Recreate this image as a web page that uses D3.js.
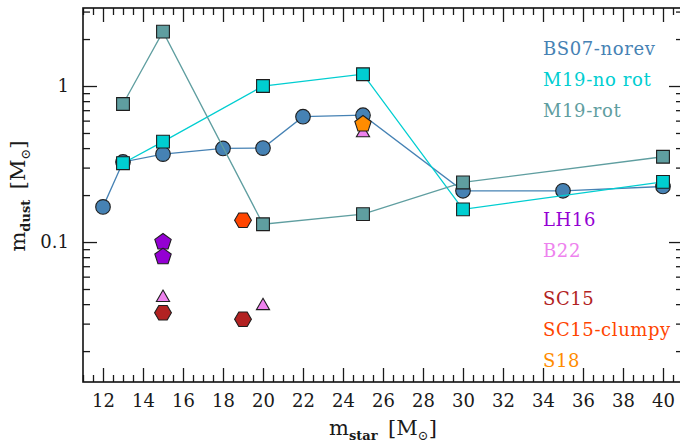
<!DOCTYPE html>
<html>
<head>
<meta charset="utf-8">
<script src="https://cdn.jsdelivr.net/npm/d3@7"></script>
<style>
  html, body { margin: 0; padding: 0; background: #fff; }
  svg { display: block; }
  text { font-family: "DejaVu Serif", serif; }
</style>
</head>
<body>
<svg id="chart" width="680" height="445"></svg>
<script>
// Dust mass vs progenitor stellar mass, several model sets
const bs07Mass = [12, 13, 15, 18, 20, 22, 25, 30, 35, 40];
const bs07Dust = [0.168, 0.326, 0.366, 0.398, 0.40, 0.636, 0.65, 0.213, 0.213, 0.227];

const m19NoRotMass = [13, 15, 20, 25, 30, 40];
const m19NoRotDust = [0.32, 0.44, 1.0, 1.19, 0.162, 0.243];

const m19RotMass = [13, 15, 20, 25, 30, 40];
const m19RotDust = [0.767, 2.23, 0.13, 0.151, 0.241, 0.352];

const lh16Mass = [15, 15];
const lh16Dust = [0.1, 0.0805];

const b22Mass = [15, 20, 25];
const b22Dust = [0.044, 0.039, 0.50];

const sc15Mass = [15, 19];
const sc15Dust = [0.0352, 0.032];

const sc15ClumpyMass = [19];
const sc15ClumpyDust = [0.138];

const s18Mass = [25];
const s18Dust = [0.57];

const legendLabels = ["BS07-norev", "M19-no rot", "M19-rot", "LH16", "B22", "SC15", "SC15-clumpy", "S18"];

const xMajorTicks = [12, 14, 16, 18, 20, 22, 24, 26, 28, 30, 32, 34, 36, 38, 40];
const yMajorTicks = [0.1, 1];
const yTickLabels = ["0.1", "1"];

// ---------------------------------------------------------------
const svg = d3.select("#chart");
const plotLeft = 83, plotRight = 683, plotTop = 8, plotBottom = 382;

const x = d3.scaleLinear().domain([11, 41]).range([plotLeft, plotRight]);
const y = d3.scaleLog().domain([Math.pow(10, -1.897), Math.pow(10, 0.5)]).range([plotBottom, plotTop]);

// minor tick positions
const xMinorTicks = d3.range(11, 41.01, 0.5).filter(v => !xMajorTicks.includes(v));
const yMinorTicks = [];
[0.01, 0.1, 1].forEach(dec => {
  for (let k = 2; k <= 9; k++) {
    const v = +(k * dec).toPrecision(3);
    if (v >= y.domain()[0] && v <= y.domain()[1]) yMinorTicks.push(v);
  }
});

const tickColor = "#1a1a1a";

function styleAxis(g) {
  g.select(".domain").remove();
  g.selectAll(".tick line").attr("stroke", tickColor).attr("stroke-width", 1.3);
  g.selectAll(".tick text").attr("fill", "#1a1a1a").style("font-size", "18px")
    .style("font-family", "'DejaVu Serif', serif");
}

// bottom axis
svg.append("g").attr("transform", `translate(0,${plotBottom})`)
  .call(d3.axisBottom(x).tickValues(xMajorTicks).tickSize(-14).tickPadding(12).tickFormat(d3.format("d")))
  .call(styleAxis);
svg.append("g").attr("transform", `translate(0,${plotBottom})`)
  .call(d3.axisBottom(x).tickValues(xMinorTicks).tickSize(-7).tickFormat(""))
  .call(styleAxis);
// top axis (mirror)
svg.append("g").attr("transform", `translate(0,${plotTop})`)
  .call(d3.axisTop(x).tickValues(xMajorTicks).tickSize(-14).tickFormat(""))
  .call(styleAxis);
svg.append("g").attr("transform", `translate(0,${plotTop})`)
  .call(d3.axisTop(x).tickValues(xMinorTicks).tickSize(-7).tickFormat(""))
  .call(styleAxis);
// left axis
svg.append("g").attr("transform", `translate(${plotLeft},0)`)
  .call(d3.axisLeft(y).tickValues(yMajorTicks).tickSize(-14).tickPadding(14)
        .tickFormat((d, i) => yTickLabels[i]))
  .call(styleAxis);
svg.append("g").attr("transform", `translate(${plotLeft},0)`)
  .call(d3.axisLeft(y).tickValues(yMinorTicks).tickSize(-7).tickFormat(""))
  .call(styleAxis);
// right axis (mirror)
svg.append("g").attr("transform", `translate(${plotRight},0)`)
  .call(d3.axisRight(y).tickValues(yMajorTicks).tickSize(-14).tickFormat(""))
  .call(styleAxis);
svg.append("g").attr("transform", `translate(${plotRight},0)`)
  .call(d3.axisRight(y).tickValues(yMinorTicks).tickSize(-7).tickFormat(""))
  .call(styleAxis);

// frame
svg.append("rect")
  .attr("x", plotLeft).attr("y", plotTop)
  .attr("width", plotRight - plotLeft).attr("height", plotBottom - plotTop)
  .attr("fill", "none").attr("stroke", "#111").attr("stroke-width", 1.6);

// ---------------------------------------------------------------
// marker shapes
function polygonType(n, rot) {
  return {
    draw(context, size) {
      const r = Math.sqrt(size);
      for (let i = 0; i < n; i++) {
        const a = rot + i * 2 * Math.PI / n;
        const px = r * Math.cos(a), py = r * Math.sin(a);
        if (i === 0) context.moveTo(px, py); else context.lineTo(px, py);
      }
      context.closePath();
    }
  };
}
const circleType = {
  draw(context, size) {
    const r = Math.sqrt(size);
    context.moveTo(r, 0);
    context.arc(0, 0, r, 0, 2 * Math.PI);
  }
};
const squareType = {
  draw(context, size) {
    const h = Math.sqrt(size);
    context.rect(-h, -h, 2 * h, 2 * h);
  }
};
const shapes = {
  circle: { type: circleType, r: 7.3 },
  square: { type: squareType, r: 6.4 },
  triangle: { type: polygonType(3, -Math.PI / 2), r: 7.6 },
  pentagon: { type: polygonType(5, -Math.PI / 2), r: 8.6 },
  hexagon: { type: polygonType(6, 0), r: 8.4 }
};

function drawLine(mass, dust, color) {
  const line = d3.line().x(d => x(d[0])).y(d => y(d[1]));
  svg.append("path")
    .datum(d3.zip(mass, dust))
    .attr("d", line)
    .attr("fill", "none")
    .attr("stroke", color)
    .attr("stroke-width", 1.3);
}

function drawMarkers(mass, dust, shape, color) {
  const s = shapes[shape];
  const gen = d3.symbol().type(s.type).size(s.r * s.r);
  svg.append("g").selectAll("path")
    .data(d3.zip(mass, dust))
    .join("path")
    .attr("transform", d => `translate(${x(d[0])},${y(d[1])})`)
    .attr("d", gen)
    .attr("fill", color)
    .attr("stroke", "#1e1e1e")
    .attr("stroke-width", 1.1);
}

const colBS07 = "#4682b4";
const colM19NoRot = "#00ced1";
const colM19Rot = "#5f9ea0";
const colLH16 = "#9400d3";
const colB22 = "#ee82ee";
const colSC15 = "#b22222";
const colSC15Clumpy = "#ff4500";
const colS18 = "#ff8c00";

drawLine(bs07Mass, bs07Dust, colBS07);
drawMarkers(bs07Mass, bs07Dust, "circle", colBS07);
drawLine(m19NoRotMass, m19NoRotDust, colM19NoRot);
drawMarkers(m19NoRotMass, m19NoRotDust, "square", colM19NoRot);
drawLine(m19RotMass, m19RotDust, colM19Rot);
drawMarkers(m19RotMass, m19RotDust, "square", colM19Rot);

drawMarkers(lh16Mass, lh16Dust, "pentagon", colLH16);
drawMarkers(b22Mass, b22Dust, "triangle", colB22);
drawMarkers(sc15Mass, sc15Dust, "hexagon", colSC15);
drawMarkers(sc15ClumpyMass, sc15ClumpyDust, "hexagon", colSC15Clumpy);
drawMarkers(s18Mass, s18Dust, "pentagon", colS18);

// ---------------------------------------------------------------
// legend: coloured labels in three groups
const legendColors = [colBS07, colM19NoRot, colM19Rot, colLH16, colB22, colSC15, colSC15Clumpy, colS18];
const legendBaselines = [55, 86, 117, 226, 257, 305, 336, 367];
svg.append("g").selectAll("text")
  .data(legendLabels)
  .join("text")
  .attr("x", 543)
  .attr("y", (d, i) => legendBaselines[i])
  .attr("fill", (d, i) => legendColors[i])
  .style("font-size", "18px")
  .style("letter-spacing", "0.6px")
  .text(d => d);

// axis titles
function axisTitle(g, main, sub) {
  const t = g.append("text").attr("text-anchor", "middle").attr("fill", "#1a1a1a")
    .style("font-size", "21px");
  t.append("tspan").text(main);
  t.append("tspan").attr("dy", 5).style("font-size", "13px").style("font-weight", "bold").text(sub);
  t.append("tspan").attr("dy", -5).text("\u2002[M");
  t.append("tspan").attr("dy", 5).style("font-size", "13px").text("\u2299");
  t.append("tspan").attr("dy", -5).text("]");
  return t;
}
axisTitle(svg.append("g").attr("transform", "translate(383,435)"), "m", "star");
axisTitle(svg.append("g").attr("transform", "translate(25,196) rotate(-90)"), "m", "dust");
</script>
</body>
</html>
